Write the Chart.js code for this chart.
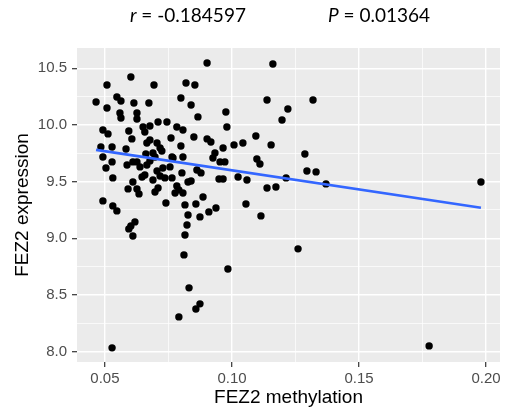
<!DOCTYPE html>
<html>
<head>
<meta charset="utf-8">
<script src="https://cdn.jsdelivr.net/npm/chart.js@4.4.1/dist/chart.umd.min.js"></script>
<style>
  html, body { margin: 0; padding: 0; background: #fff; }
  canvas { display: block; }
</style>
</head>
<body>
<canvas id="chart" width="508" height="410"></canvas>
<script>
// FEZ2 methylation (x) vs FEZ2 expression (y)
const methylation = [
  0.0902, 0.1161, 0.0602, 0.0508, 0.0693, 0.0819, 0.0854, 0.0465, 0.0547, 0.0563,
  0.0614, 0.0673, 0.0508, 0.0559, 0.0563, 0.0626, 0.0626, 0.0799, 0.0839, 0.0866,
  0.0976, 0.0980, 0.1138, 0.1319, 0.1220, 0.1197, 0.0492, 0.0512, 0.0594, 0.0606,
  0.0650, 0.0657, 0.0677, 0.0709, 0.0744, 0.0677, 0.0783, 0.0807, 0.0760, 0.0850,
  0.0902, 0.0917, 0.0799, 0.0965, 0.1008, 0.1043, 0.1094, 0.1154, 0.1287, 0.0933,
  0.1098, 0.1110, 0.0925, 0.0953, 0.0972, 0.0484, 0.0528, 0.0492, 0.0583, 0.0665,
  0.0705, 0.0717, 0.0807, 0.0764, 0.0724, 0.0528, 0.0504, 0.0531, 0.0587, 0.0610,
  0.0626, 0.0638, 0.0665, 0.0677, 0.0705, 0.0728, 0.0646, 0.0657, 0.0689, 0.0717,
  0.0736, 0.0764, 0.0803, 0.0827, 0.0839, 0.0862, 0.0878, 0.0610, 0.0591, 0.0626,
  0.0634, 0.0697, 0.0709, 0.0783, 0.0776, 0.0791, 0.0807, 0.0492, 0.0531, 0.0547,
  0.0740, 0.0815, 0.0858, 0.0886, 0.0827, 0.0874, 0.0909, 0.0937, 0.1055, 0.0618,
  0.0602, 0.0594, 0.0610, 0.0823, 0.0815, 0.0811, 0.0949, 0.0965, 0.1024, 0.1059,
  0.1213, 0.1295, 0.1331, 0.1370, 0.1138, 0.1173, 0.1114, 0.1260, 0.0831, 0.0874,
  0.0858, 0.0791, 0.0528, 0.0984, 0.1980, 0.1776, 0.0661, 0.0697, 0.0768, 0.0756,
  0.0689
];
const expression = [
  10.547, 10.538, 10.423, 10.353, 10.353, 10.370, 10.353, 10.203, 10.247, 10.212,
  10.194, 10.194, 10.150, 10.106, 10.062, 10.106, 10.053, 10.238, 10.176, 10.071,
  10.115, 9.982, 10.220, 10.220, 10.141, 10.044, 9.956, 9.921, 9.947, 9.877,
  9.982, 9.938, 9.991, 10.026, 10.026, 9.868, 9.982, 9.956, 9.885, 9.894,
  9.877, 9.850, 9.815, 9.797, 9.824, 9.841, 9.903, 9.824, 9.744, 9.753,
  9.700, 9.656, 9.709, 9.674, 9.674, 9.806, 9.806, 9.718, 9.788, 9.841,
  9.841, 9.797, 9.718, 9.718, 9.771, 9.674, 9.621, 9.533, 9.647, 9.674,
  9.674, 9.630, 9.647, 9.683, 9.594, 9.621, 9.541, 9.559, 9.515, 9.550,
  9.533, 9.533, 9.577, 9.497, 9.506, 9.603, 9.577, 9.497, 9.436, 9.436,
  9.392, 9.409, 9.444, 9.462, 9.400, 9.427, 9.400, 9.330, 9.286, 9.242,
  9.312, 9.295, 9.303, 9.365, 9.206, 9.189, 9.233, 9.268, 9.303, 9.145,
  9.109, 9.083, 9.021, 9.118, 9.030, 8.854, 9.524, 9.524, 9.541, 9.515,
  9.533, 9.594, 9.586, 9.480, 9.444, 9.453, 9.198, 8.907, 8.563, 8.422,
  8.377, 8.307, 8.034, 8.730, 9.497, 8.051, 9.744, 9.718, 9.709, 9.630,
  9.753
];

// linear fit, end points
const fitX = [0.0465, 0.198];
const fitY = [9.78, 9.27];

const xMajor = [0.05, 0.10, 0.15, 0.20];
const xMinor = [0.075, 0.125, 0.175];
const xTickLabels = ["0.05", "0.10", "0.15", "0.20"];
const yMajor = [8.0, 8.5, 9.0, 9.5, 10.0, 10.5];
const yMinor = [8.25, 8.75, 9.25, 9.75, 10.25];
const yTickLabels = ["8.0", "8.5", "9.0", "9.5", "10.0", "10.5"];

const statR = "-0.184597";
const statP = "0.01364";

const majorIndex = (list, v) => list.findIndex(m => Math.abs(m - v) < 1e-6);

const panelBg = {
    id: "panelBg",
    beforeDraw(chart) {
        const { ctx, chartArea: a } = chart;
        ctx.save();
        ctx.fillStyle = "#EBEBEB";
        ctx.fillRect(a.left, a.top, a.right - a.left, a.bottom - a.top);
        ctx.restore();
    }
};

const statsTitle = {
    id: "statsTitle",
    afterDraw(chart) {
        const ctx = chart.ctx;
        const y = 22;
        const parts = [
            [130, "r", " = " + statR],
            [328, "P", " = " + statP]
        ];
        ctx.save();
        ctx.fillStyle = "#000";
        ctx.textBaseline = "alphabetic";
        ctx.textAlign = "left";
        parts.forEach(([x, sym, rest]) => {
            ctx.font = "italic 19px Lato";
            ctx.fillText(sym, x, y);
            const w = ctx.measureText(sym).width;
            ctx.font = "19px Lato";
            ctx.fillText(rest, x + w, y);
        });
        ctx.restore();
    }
};

const gridOpts = (major) => ({
    color: "#FFFFFF",
    lineWidth: (c) => majorIndex(major, c.tick ? c.tick.value : NaN) >= 0 ? 1.4 : 0.7,
    tickColor: (c) => majorIndex(major, c.tick ? c.tick.value : NaN) >= 0 ? "#333333" : "rgba(0,0,0,0)",
    tickWidth: 1.2,
    tickLength: 5,
    drawTicks: true
});

const ctx = document.getElementById("chart").getContext("2d");
new Chart(ctx, {
    type: "scatter",
    data: {
        datasets: [
            {
                type: "line",
                data: fitX.map((x, i) => ({ x: x, y: fitY[i] })),
                borderColor: "#3366FF",
                borderWidth: 2.6,
                pointRadius: 0,
                fill: false
            },
            {
                data: methylation.map((x, i) => ({ x: x, y: expression[i] })),
                backgroundColor: "#000000",
                borderColor: "#000000",
                borderWidth: 0,
                pointRadius: 3.7,
                pointHoverRadius: 3.7
            }
        ]
    },
    options: {
        responsive: false,
        animation: false,
        devicePixelRatio: 1,
        layout: { padding: { top: 48, right: 8, left: 0, bottom: 0 } },
        plugins: {
            legend: { display: false },
            tooltip: { enabled: false }
        },
        scales: {
            x: {
                type: "linear",
                min: 0.039,
                max: 0.2055,
                border: { display: false },
                grid: gridOpts(xMajor),
                afterBuildTicks: (s) => {
                    s.ticks = [...xMajor, ...xMinor].sort((a, b) => a - b).map(v => ({ value: v }));
                },
                afterFit: (s) => { s.height = 48; },
                ticks: {
                    autoSkip: false,
                    maxRotation: 0,
                    padding: 3,
                    color: "#4D4D4D",
                    font: { family: "Liberation Sans", size: 15 },
                    callback: (v) => {
                        const i = majorIndex(xMajor, v);
                        return i >= 0 ? xTickLabels[i] : "";
                    }
                },
                title: {
                    display: true,
                    text: "FEZ2 methylation",
                    color: "#000000",
                    font: { family: "Liberation Sans", size: 19 },
                    padding: { top: 0, bottom: 1 }
                }
            },
            y: {
                type: "linear",
                min: 7.909,
                max: 10.679,
                border: { display: false },
                grid: gridOpts(yMajor),
                afterBuildTicks: (s) => {
                    s.ticks = [...yMajor, ...yMinor].sort((a, b) => a - b).map(v => ({ value: v }));
                },
                afterFit: (s) => { s.width = 77; },
                ticks: {
                    autoSkip: false,
                    padding: 5,
                    color: "#4D4D4D",
                    font: { family: "Liberation Sans", size: 15 },
                    callback: (v) => {
                        const i = majorIndex(yMajor, v);
                        return i >= 0 ? yTickLabels[i] : "";
                    }
                },
                title: {
                    display: true,
                    text: "FEZ2 expression",
                    color: "#000000",
                    font: { family: "Liberation Sans", size: 19 },
                    padding: { top: 11, bottom: 0 }
                }
            }
        }
    },
    plugins: [panelBg, statsTitle]
});
</script>
</body>
</html>
